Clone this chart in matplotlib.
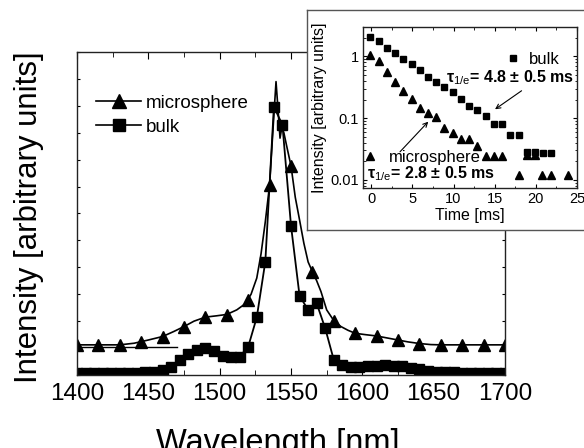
import matplotlib
matplotlib.use('Agg')
import matplotlib.pyplot as plt
from matplotlib.lines import Line2D
from matplotlib.ticker import MultipleLocator, LogLocator, NullFormatter, FixedLocator, FixedFormatter

plt.rcParams['font.family'] = ['Liberation Sans', 'DejaVu Sans']
plt.rcParams['mathtext.fontset'] = 'custom'
plt.rcParams['mathtext.rm'] = 'Liberation Sans'
plt.rcParams['mathtext.bf'] = 'Liberation Sans:bold'
plt.rcParams['mathtext.it'] = 'Liberation Sans:italic'

# ---------------- main panel data ----------------
micro_wl = [1400, 1415, 1430, 1445, 1460, 1475, 1490, 1505, 1520, 1535, 1550,
            1565, 1580, 1595, 1610, 1625, 1640, 1655, 1670, 1685, 1700]
micro_int = [1.12, 1.12, 1.12, 1.24, 1.42, 1.80, 2.17, 2.23, 2.79, 7.06, 7.77,
             3.84, 2.02, 1.55, 1.45, 1.30, 1.17, 1.12, 1.12, 1.12, 1.12]

micro_curve_wl = [1400, 1415, 1430, 1440, 1450, 1460, 1468, 1475, 1482, 1490, 1498,
                  1505, 1512, 1518, 1522, 1526, 1529, 1532, 1535, 1537, 1539.5, 1541,
                  1542.3, 1543.6, 1545, 1547, 1550, 1553, 1556, 1559, 1562, 1565, 1568,
                  1571, 1575, 1580, 1585, 1590, 1595, 1602, 1610, 1617, 1625, 1632,
                  1640, 1648, 1655, 1700]
micro_curve_int = [1.12, 1.12, 1.12, 1.18, 1.30, 1.43, 1.62, 1.80, 2.00, 2.15, 2.20,
                   2.25, 2.42, 2.65, 3.00, 3.60, 4.50, 5.70, 7.06, 8.80, 10.90, 9.80,
                   8.80, 9.20, 9.00, 8.50, 7.77, 6.60, 5.76, 4.90, 4.20, 3.84, 3.50,
                   3.10, 2.42, 2.02, 1.80, 1.66, 1.55, 1.50, 1.45, 1.38, 1.30, 1.23,
                   1.17, 1.13, 1.12, 1.12]

bulk_wl = list(range(1400, 1701, 6))
bulk_int = [0.08, 0.08, 0.08, 0.08, 0.08, 0.08, 0.08, 0.09, 0.10, 0.13,
            0.19, 0.31, 0.56, 0.79, 0.94, 0.99, 0.90, 0.70, 0.66, 0.68,
            1.05, 2.14, 4.21, 9.97, 9.29, 5.55, 2.94, 2.42, 2.66, 1.73,
            0.56, 0.37, 0.31, 0.31, 0.33, 0.35, 0.36, 0.35, 0.32, 0.27,
            0.21, 0.16, 0.13, 0.11, 0.10, 0.09, 0.09, 0.08, 0.08, 0.08, 0.08]

baseline_wl = [1400, 1470]
baseline_int = [1.05, 1.05]

# ---------------- inset data ----------------
t_bulk = [-0.1, 0.9, 1.9, 2.9, 3.9, 4.9, 5.9, 6.9, 7.9, 8.9, 9.9, 10.9, 11.9,
          12.9, 13.9, 14.9, 15.9, 16.9, 17.9, 18.9, 19.9, 20.9, 21.9]
decay_bulk = [2.06, 1.75, 1.37, 1.13, 0.905, 0.76, 0.61, 0.47, 0.39, 0.32, 0.27,
              0.206, 0.159, 0.137, 0.107, 0.081, 0.081, 0.054, 0.054, 0.028,
              0.028, 0.027, 0.027]
t_micro = [-0.1, 0.9, 1.9, 2.9, 3.9, 4.9, 5.9, 6.9, 7.9, 8.9, 9.9, 10.9, 11.9,
           12.9, 13.9, 14.9, 15.9, 17.9, 18.9, 19.9, 20.8, 21.8, 23.9]
decay_micro = [1.07, 0.83, 0.55, 0.39, 0.28, 0.204, 0.146, 0.121, 0.103, 0.069,
               0.057, 0.046, 0.046, 0.035, 0.0245, 0.0245, 0.0245, 0.0118,
               0.025, 0.025, 0.0118, 0.0118, 0.0118]

W, H = 584, 448
fig = plt.figure(figsize=(W / 100, H / 100), dpi=100)

# ---------------- main axes ----------------
ax = fig.add_axes([77 / W, 1 - 375 / H, 428 / W, 323 / H])
ax.plot(baseline_wl, baseline_int, color='black', lw=1.0)
ax.plot(micro_curve_wl, micro_curve_int, color='black', lw=1.2)
ax.plot(micro_wl, micro_int, ls='none', marker='^', ms=9, color='black')
ax.plot(bulk_wl, bulk_int, color='black', lw=1.3, marker='s', ms=7)
ax.set_xlim(1400, 1700)
ax.set_ylim(0, 12)
ax.xaxis.set_major_locator(MultipleLocator(50))
ax.xaxis.set_minor_locator(MultipleLocator(25))
ax.yaxis.set_major_locator(MultipleLocator(1))
ax.set_yticklabels([])
ax.tick_params(axis='x', which='both', direction='in', top=True, labelsize=17.5, pad=6)
ax.tick_params(axis='x', which='major', length=5)
ax.tick_params(axis='x', which='minor', length=3.5)
ax.tick_params(axis='y', which='both', direction='in', right=True, length=2.5)
for s in ax.spines.values():
    s.set_linewidth(1.0)
    s.set_color('#222222')
ax.set_xlabel('Wavelength [nm]', fontsize=23.5, labelpad=6)
ax.xaxis.set_label_coords(0.47, -0.165)
ax.set_ylabel('Intensity [arbitrary units]', fontsize=22.5)
ax.yaxis.set_label_coords(-0.078, 0.49)

h_micro = Line2D([], [], color='black', lw=1.2, marker='^', ms=10)
h_bulk = Line2D([], [], color='black', lw=1.2, marker='s', ms=9)
ax.legend([h_micro, h_bulk], ['microsphere', 'bulk'], loc='upper left',
          bbox_to_anchor=(0.045, 0.868), frameon=False, fontsize=13.5,
          handlelength=2.4, handletextpad=0.25, labelspacing=0.38, borderpad=0,
          borderaxespad=0)

# ---------------- inset frame ----------------
fr = fig.add_axes([307 / W, 1 - 230 / H, 320 / W, 220 / H])
fr.set_xticks([])
fr.set_yticks([])
fr.set_facecolor('white')
for s in fr.spines.values():
    s.set_color('#555555')
    s.set_linewidth(1.0)
fr.set_zorder(2)

# ---------------- inset axes ----------------
ai = fig.add_axes([363 / W, 1 - 188 / H, 214 / W, 161 / H])
ai.set_zorder(3)
ai.plot(t_bulk, decay_bulk, ls='none', marker='s', ms=5, color='black')
ai.plot(t_micro, decay_micro, ls='none', marker='^', ms=6, color='black')
ai.set_yscale('log')
ai.set_xlim(-1, 25)
ai.set_ylim(0.0074, 3.0)
ai.xaxis.set_major_locator(MultipleLocator(5))
ai.xaxis.set_minor_locator(MultipleLocator(2.5))
ai.yaxis.set_major_locator(FixedLocator([0.01, 0.1, 1]))
ai.yaxis.set_major_formatter(FixedFormatter(['0.01', '0.1', '1']))
ai.yaxis.set_minor_locator(LogLocator(base=10, subs=range(2, 10)))
ai.yaxis.set_minor_formatter(NullFormatter())
ai.tick_params(which='both', direction='in', top=True, right=True, labelsize=10.5, pad=3)
ai.tick_params(which='major', length=3)
ai.tick_params(which='minor', length=1.8)
for s in ai.spines.values():
    s.set_color('#222222')
    s.set_linewidth(1.0)
ai.set_xlabel('Time [ms]', fontsize=11.5, labelpad=1)
ai.set_ylabel('Intensity [arbitrary units]', fontsize=11.5, labelpad=2)

hb = Line2D([], [], ls='none', marker='s', ms=5, color='black')
hm = Line2D([], [], ls='none', marker='^', ms=6, color='black')
lg1 = ai.legend([hb], ['bulk'], loc='center left', bbox_to_anchor=(0.66, 0.80),
                frameon=False, fontsize=12, handlelength=1.0, handletextpad=0.5,
                borderpad=0, borderaxespad=0)
ai.add_artist(lg1)
ai.legend([hm], ['microsphere'], loc='center left', bbox_to_anchor=(-0.005, 0.19),
          frameon=False, fontsize=12, handlelength=1.0, handletextpad=0.6,
          borderpad=0, borderaxespad=0)

ai.text(0.39, 0.658, r'$\mathbf{\tau}_{\mathrm{1/e}}$= 4.8 ± 0.5 ms',
        transform=ai.transAxes, fontsize=11.5, fontweight='bold', va='baseline')
ai.text(0.02, 0.062, r'$\mathbf{\tau}_{\mathrm{1/e}}$= 2.8 ± 0.5 ms',
        transform=ai.transAxes, fontsize=11.5, fontweight='bold', va='baseline')

ai.annotate('', xy=(0.617, 0.489), xytext=(0.741, 0.604), xycoords='axes fraction',
            arrowprops=dict(arrowstyle='->', lw=0.8, color='black',
                            shrinkA=0, shrinkB=0, mutation_scale=8))
ai.annotate('', xy=(0.305, 0.412), xytext=(0.173, 0.225), xycoords='axes fraction',
            arrowprops=dict(arrowstyle='->', lw=0.8, color='black',
                            shrinkA=0, shrinkB=0, mutation_scale=8))

fig.savefig('out.png', dpi=100)
